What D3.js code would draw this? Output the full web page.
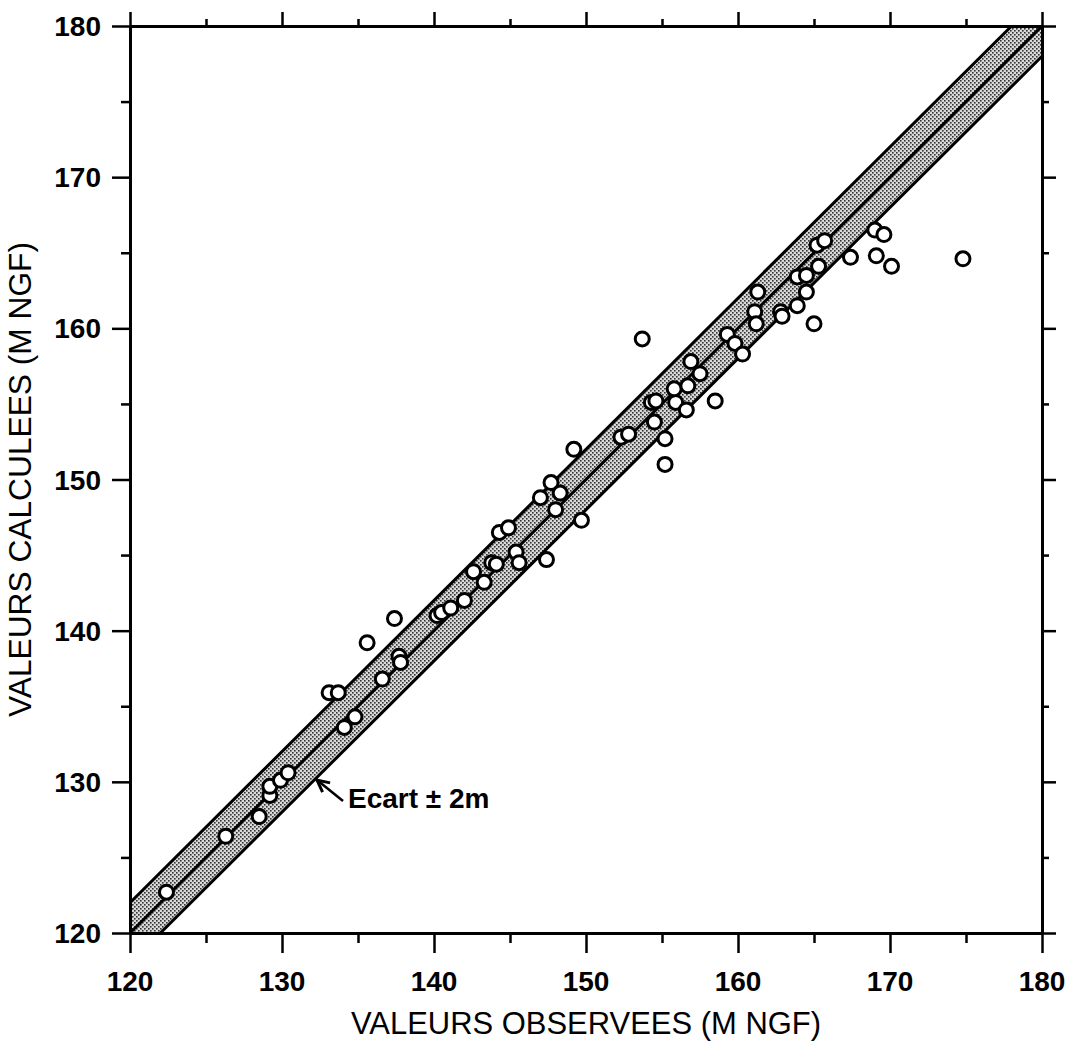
<!DOCTYPE html>
<html lang="fr">
<head>
<meta charset="UTF-8">
<title>Valeurs observees / calculees</title>
<script src="https://cdn.jsdelivr.net/npm/d3@7"></script>
<style>
  body { margin: 0; background: #fff; }
  text { font-family: "Liberation Sans", Arial, Helvetica, sans-serif; }
</style>
</head>
<body>
<script>
// valeurs
var observees = [122.4, 126.3, 128.5, 129.2, 129.2, 129.9, 130.4, 133.1, 133.7, 134.1,
  134.8, 135.6, 136.6, 137.4, 137.7, 137.8, 140.2, 140.5, 141.1, 142.0,
  142.6, 143.3, 143.8, 144.1, 144.3, 144.9, 145.4, 145.6, 147.4, 149.7,
  147.0, 147.7, 148.3, 148.0, 149.2, 152.3, 152.8, 154.3, 154.6, 154.5,
  155.2, 155.2, 155.9, 156.6, 158.5, 153.7, 155.8, 156.7, 156.9, 157.5,
  159.3, 159.8, 160.3, 161.3, 161.1, 161.2, 162.8, 162.9, 163.9, 165.0,
  163.9, 164.5, 164.5, 165.3, 165.2, 165.7, 167.4, 169.0, 169.6, 169.1,
  170.1, 174.8];
var calculees = [122.7, 126.4, 127.7, 129.1, 129.7, 130.1, 130.6, 135.9, 135.9, 133.6,
  134.3, 139.2, 136.8, 140.8, 138.3, 137.9, 141.0, 141.2, 141.5, 142.0,
  143.9, 143.2, 144.5, 144.4, 146.5, 146.8, 145.2, 144.5, 144.7, 147.3,
  148.8, 149.8, 149.1, 148.0, 152.0, 152.8, 153.0, 155.1, 155.2, 153.8,
  152.7, 151.0, 155.1, 154.6, 155.2, 159.3, 156.0, 156.2, 157.8, 157.0,
  159.6, 159.0, 158.3, 162.4, 161.1, 160.3, 161.1, 160.8, 161.5, 160.3,
  163.4, 163.5, 162.4, 164.1, 165.5, 165.8, 164.7, 166.5, 166.2, 164.8,
  164.1, 164.6];
var ecart = 2;
var domaine = [120, 180];
var ticksMajeurs = [120, 130, 140, 150, 160, 170, 180];
var ticksMineurs = [125, 135, 145, 155, 165, 175];

var width = 1073, height = 1046;
var mLeft = 130, mRight = 1042, mTop = 26, mBottom = 933;

var svg = d3.select("body").append("svg")
  .attr("width", width)
  .attr("height", height);

var x = d3.scaleLinear().domain(domaine).range([mLeft, mRight]);
var y = d3.scaleLinear().domain(domaine).range([mBottom, mTop]);

// motif pointille pour la bande
var defs = svg.append("defs");
var pat = defs.append("pattern")
  .attr("id", "stipple")
  .attr("width", 4).attr("height", 4)
  .attr("patternUnits", "userSpaceOnUse");
pat.append("rect").attr("width", 4).attr("height", 4).attr("fill", "#d8d8d8");
pat.append("rect").attr("x", 0).attr("y", 0).attr("width", 1.6).attr("height", 1.6).attr("fill", "#333");
pat.append("rect").attr("x", 2).attr("y", 2).attr("width", 1.6).attr("height", 1.6).attr("fill", "#333");

defs.append("marker")
  .attr("id", "fleche")
  .attr("viewBox", "0 0 10 10")
  .attr("refX", 9).attr("refY", 5)
  .attr("markerWidth", 6).attr("markerHeight", 6)
  .attr("orient", "auto")
  .append("path")
  .attr("d", "M1,1 L9,5 L1,9")
  .attr("fill", "none").attr("stroke", "#000").attr("stroke-width", 2);

// bande +/- ecart
var lo = domaine[0], hi = domaine[1];
var bande = [[lo, lo], [lo, lo + ecart], [hi - ecart, hi], [hi, hi], [hi, hi - ecart], [lo + ecart, lo]];
svg.append("path")
  .attr("d", d3.line().x(function(d) { return x(d[0]); }).y(function(d) { return y(d[1]); })(bande) + "Z")
  .attr("fill", "url(#stipple)");

var lignes = [
  [[lo, lo + ecart], [hi - ecart, hi]],
  [[lo, lo], [hi, hi]],
  [[lo + ecart, lo], [hi, hi - ecart]]
];
svg.selectAll(".ligne").data(lignes).enter().append("line")
  .attr("class", "ligne")
  .attr("x1", function(d) { return x(d[0][0]); })
  .attr("y1", function(d) { return y(d[0][1]); })
  .attr("x2", function(d) { return x(d[1][0]); })
  .attr("y2", function(d) { return y(d[1][1]); })
  .attr("stroke", "#000").attr("stroke-width", 3);

// axes
function axe(gen, tr, taille, valeurs) {
  var g = svg.append("g").attr("transform", tr)
    .call(gen.tickValues(valeurs).tickSize(taille).tickSizeOuter(0));
  g.select(".domain").attr("stroke-width", 3);
  g.selectAll(".tick line").attr("stroke-width", 2.5);
  g.selectAll("text").remove();
  return g;
}
axe(d3.axisBottom(x), "translate(0," + mBottom + ")", 20, ticksMajeurs);
axe(d3.axisBottom(x), "translate(0," + mBottom + ")", 10, ticksMineurs);
axe(d3.axisTop(x), "translate(0," + mTop + ")", 14, ticksMajeurs);
axe(d3.axisTop(x), "translate(0," + mTop + ")", 7, ticksMineurs);
axe(d3.axisLeft(y), "translate(" + mLeft + ",0)", 18, ticksMajeurs);
axe(d3.axisLeft(y), "translate(" + mLeft + ",0)", 9, ticksMineurs);
axe(d3.axisRight(y), "translate(" + mRight + ",0)", 14, ticksMajeurs);
axe(d3.axisRight(y), "translate(" + mRight + ",0)", 7, ticksMineurs);

// etiquettes des graduations
svg.selectAll(".lx").data(ticksMajeurs).enter().append("text")
  .attr("x", function(d) { return x(d); })
  .attr("y", 991)
  .attr("text-anchor", "middle")
  .attr("font-size", 28).attr("font-weight", "bold")
  .text(function(d) { return d; });
svg.selectAll(".ly").data(ticksMajeurs).enter().append("text")
  .attr("x", 101)
  .attr("y", function(d) { return y(d) + 10; })
  .attr("text-anchor", "end")
  .attr("font-size", 28).attr("font-weight", "bold")
  .text(function(d) { return d; });

// titres
svg.append("text")
  .attr("x", (mLeft + mRight) / 2).attr("y", 1034)
  .attr("text-anchor", "middle")
  .attr("font-size", 31)
  .attr("textLength", 470).attr("lengthAdjust", "spacingAndGlyphs")
  .text("VALEURS OBSERVEES (M NGF)");
svg.append("text")
  .attr("transform", "translate(31," + (mTop + mBottom) / 2 + ") rotate(-90)")
  .attr("text-anchor", "middle")
  .attr("font-size", 31)
  .attr("textLength", 475).attr("lengthAdjust", "spacingAndGlyphs")
  .text("VALEURS CALCULEES (M NGF)");

// points
svg.selectAll(".pt").data(observees).enter().append("circle")
  .attr("class", "pt")
  .attr("cx", function(d) { return x(d); })
  .attr("cy", function(d, i) { return y(calculees[i]); })
  .attr("r", 7)
  .attr("fill", "#fff")
  .attr("stroke", "#000").attr("stroke-width", 3);

// annotation
svg.append("line")
  .attr("x1", 343).attr("y1", 801)
  .attr("x2", 317).attr("y2", 780)
  .attr("stroke", "#000").attr("stroke-width", 2.5)
  .attr("marker-end", "url(#fleche)");
svg.append("text")
  .attr("x", 348).attr("y", 808)
  .attr("font-size", 28).attr("font-weight", "bold")
  .text("Ecart \u00b1 2m");
</script>
</body>
</html>
